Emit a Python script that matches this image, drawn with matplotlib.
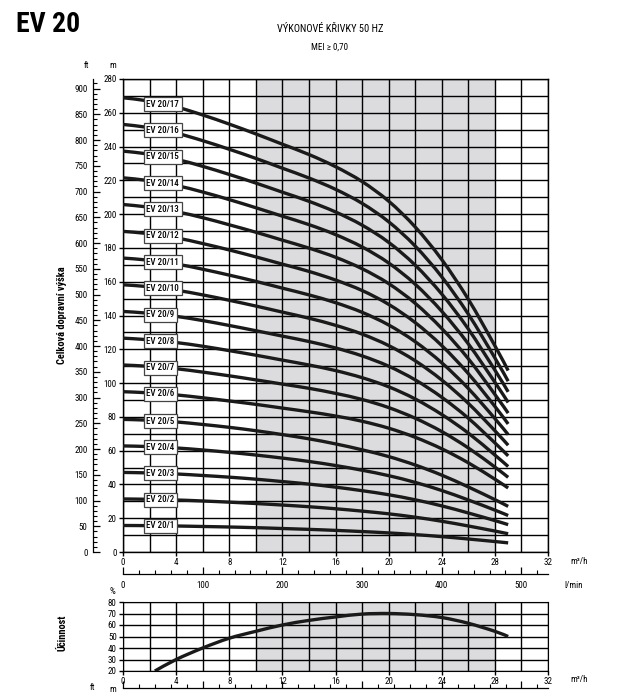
import numpy as np
import matplotlib
matplotlib.use('Agg')
import matplotlib.pyplot as plt
from matplotlib.ticker import MultipleLocator, NullFormatter
from matplotlib.path import Path
from matplotlib.patches import PathPatch

plt.rcParams['font.family'] = ['Liberation Sans Narrow', 'Roboto Condensed',
                               'Open Sans Condensed', 'DejaVu Sans']
plt.rcParams['font.stretch'] = 'condensed'

# ---------------- data ----------------
flow = [0, 2, 4, 6, 8, 10, 12, 14, 16, 18, 20, 22, 24, 26, 28, 29]  # m3/h

ev20_1 = [15.7, 15.6, 15.4, 15.1, 14.8, 14.4, 13.9, 13.4, 12.8, 12.1, 11.3, 10.3, 9.1, 7.7, 6.2, 5.4]
ev20_2 = [31.4, 31.2, 30.8, 30.2, 29.5, 28.7, 27.8, 26.8, 25.6, 24.2, 22.6, 20.6, 18.2, 15.4, 12.4, 10.8]
ev20_3 = [47.1, 46.8, 46.2, 45.3, 44.3, 43.1, 41.7, 40.2, 38.4, 36.3, 33.9, 30.9, 27.3, 23.1, 18.6, 16.2]
ev20_4 = [62.8, 62.4, 61.6, 60.4, 59.0, 57.4, 55.6, 53.6, 51.2, 48.4, 45.2, 41.2, 36.4, 30.8, 24.8, 21.6]
ev20_5 = [78.5, 78.0, 77.0, 75.5, 73.8, 71.8, 69.5, 67.0, 64.0, 60.5, 56.5, 51.5, 45.5, 38.5, 31.0, 27.0]
ev20_6 = [94.9, 94.2, 93.0, 91.3, 89.4, 87.4, 85.2, 83.0, 80.5, 77.4, 73.3, 67.9, 61.1, 52.8, 43.1, 37.9]
ev20_7 = [110.7, 109.9, 108.5, 106.5, 104.3, 101.9, 99.4, 96.9, 93.9, 90.3, 85.5, 79.2, 71.3, 61.6, 50.3, 44.2]
ev20_8 = [126.6, 125.6, 124.0, 121.8, 119.2, 116.5, 113.6, 110.7, 107.4, 103.2, 97.8, 90.6, 81.4, 70.4, 57.4, 50.6]
ev20_9 = [142.4, 141.3, 139.5, 137.0, 134.1, 131.0, 127.8, 124.6, 120.8, 116.1, 110.0, 101.9, 91.6, 79.2, 64.6, 56.9]
ev20_10 = [158.2, 157.0, 155.0, 152.2, 149.0, 145.6, 142.0, 138.4, 134.2, 129.0, 122.2, 113.2, 101.8, 88.0, 71.8, 63.2]
ev20_11 = [174.0, 172.7, 170.5, 167.4, 163.9, 160.2, 156.2, 152.2, 147.6, 141.9, 134.4, 124.5, 112.0, 96.8, 79.0, 69.5]
ev20_12 = [189.8, 188.4, 186.0, 182.6, 178.8, 174.7, 170.4, 166.1, 161.0, 154.8, 146.6, 135.8, 122.2, 105.6, 86.2, 75.8]
ev20_13 = [205.7, 204.1, 201.5, 197.9, 193.7, 189.3, 184.6, 179.9, 174.5, 167.7, 158.9, 147.2, 132.3, 114.4, 93.3, 82.2]
ev20_14 = [221.5, 219.8, 217.0, 213.1, 208.6, 203.8, 198.8, 193.8, 187.9, 180.6, 171.1, 158.5, 142.5, 123.2, 100.5, 88.5]
ev20_15 = [237.3, 235.5, 232.5, 228.3, 223.5, 218.4, 213.0, 207.6, 201.3, 193.5, 183.3, 169.8, 152.7, 132.0, 107.7, 94.8]
ev20_16 = [253.1, 251.2, 248.0, 243.5, 238.4, 233.0, 227.2, 221.4, 214.7, 206.4, 195.5, 181.1, 162.9, 140.8, 114.9, 101.1]
ev20_17 = [268.9, 266.9, 263.5, 258.7, 253.3, 247.5, 241.4, 235.3, 228.1, 219.3, 207.7, 192.4, 173.1, 149.6, 122.1, 107.4]

model_names = ['EV 20/1', 'EV 20/2', 'EV 20/3', 'EV 20/4', 'EV 20/5', 'EV 20/6', 'EV 20/7',
               'EV 20/8', 'EV 20/9', 'EV 20/10', 'EV 20/11', 'EV 20/12', 'EV 20/13',
               'EV 20/14', 'EV 20/15', 'EV 20/16', 'EV 20/17']
head_curves = [ev20_1, ev20_2, ev20_3, ev20_4, ev20_5, ev20_6, ev20_7, ev20_8, ev20_9,
               ev20_10, ev20_11, ev20_12, ev20_13, ev20_14, ev20_15, ev20_16, ev20_17]

eff_flow = [2.4, 4, 6, 8, 10, 12, 14, 16, 18, 20, 22, 24, 26, 28, 29]
eff_values = [20, 30, 40, 48.5, 54.5, 60, 64, 67, 69.5, 70, 69, 66.5, 61.5, 54.5, 50]

# ---------------- layout ----------------
W, H = 637, 694
fig = plt.figure(figsize=(W / 100, H / 100), dpi=100)


def rect(l, t, r, b):
    return [l / W, 1 - b / H, (r - l) / W, (b - t) / H]


def ftext(x, y, s, **kw):
    fig.text(x / W, 1 - y / H, s, **kw)


def smooth_curve(axis, xs, ys, **kw):
    """Draw a smooth line through the data points (Catmull-Rom as cubic Bezier)."""
    p = np.column_stack([xs, ys]).astype(float)
    n = len(p)
    verts = [p[0]]
    codes = [Path.MOVETO]
    for i in range(n - 1):
        p0 = p[i - 1] if i > 0 else p[i]
        p1, p2 = p[i], p[i + 1]
        p3 = p[i + 2] if i + 2 < n else p[i + 1]
        c1 = p1 + (p2 - p0) / 6.0
        c2 = p2 - (p3 - p1) / 6.0
        verts += [c1, c2, p2]
        codes += [Path.CURVE4] * 3
    patch = PathPatch(Path(verts, codes), fill=False, transform=axis.transData, **kw)
    axis.add_patch(patch)


SHADE = '#dcdcde'
LINE = '#1a1a1a'
FS = 6.5

# main chart
ax = fig.add_axes(rect(123, 79, 548, 552))
ax.set_xlim(0, 32)
ax.set_ylim(0, 280)
ax.axvspan(10, 28, color=SHADE, zorder=0, lw=0)
ax.xaxis.set_major_locator(MultipleLocator(4))
ax.xaxis.set_minor_locator(MultipleLocator(2))
ax.yaxis.set_major_locator(MultipleLocator(20))
ax.yaxis.set_minor_locator(MultipleLocator(10))
ax.grid(which='both', color='black', lw=1.0, zorder=1)
ax.set_axisbelow(True)
ax.tick_params(which='major', length=3, width=1, labelsize=FS, pad=1.5)
ax.tick_params(which='minor', length=0)
for s in ax.spines.values():
    s.set_linewidth(1.0)
    s.set_zorder(2)

for name, hd in zip(model_names, head_curves):
    smooth_curve(ax, flow, hd, color=LINE, lw=2.4, zorder=3, capstyle='butt')
    yb = np.interp(3.0, flow, hd)
    ax.text(1.75, yb, name, fontsize=6.5, ha='left', va='center', zorder=5,
            fontweight='medium',
            bbox=dict(boxstyle='square,pad=0.28', fc='white', ec='#444444', lw=0.9))

# ft axis
m2ft = 3.28084
sec = ax.secondary_yaxis(-30 / 425, functions=(lambda m: m * m2ft, lambda f: f / m2ft))
sec.yaxis.set_major_locator(MultipleLocator(50))
sec.yaxis.set_minor_locator(MultipleLocator(10))
sec.tick_params(which='major', direction='in', length=5, width=0.9, labelsize=FS, pad=4)
sec.tick_params(which='minor', direction='in', length=3, width=0.8)
sec.spines['left'].set_linewidth(0.9)
sec.yaxis.get_offset_text().set_visible(False)

# l/min axis under the chart
lpm = ax.secondary_xaxis(-22 / 473, functions=(lambda q: q * 1000 / 60, lambda l: l * 60 / 1000))
lpm.xaxis.set_major_locator(MultipleLocator(100))
lpm.xaxis.set_minor_locator(MultipleLocator(20))
lpm.tick_params(which='major', direction='in', length=5, width=0.9, labelsize=FS, pad=5)
lpm.tick_params(which='minor', direction='in', length=3, width=0.8)
lpm.spines['bottom'].set_linewidth(0.9)
lpm.xaxis.get_offset_text().set_visible(False)
ax.yaxis.get_offset_text().set_visible(False)

# efficiency chart
ax2 = fig.add_axes(rect(123, 602, 548, 671))
ax2.set_xlim(0, 32)
ax2.set_ylim(20, 80)
ax2.axvspan(10, 28, color=SHADE, zorder=0, lw=0)
ax2.xaxis.set_major_locator(MultipleLocator(4))
ax2.xaxis.set_minor_locator(MultipleLocator(2))
ax2.yaxis.set_major_locator(MultipleLocator(10))
ax2.grid(which='both', color='black', lw=1.0, zorder=1)
ax2.set_axisbelow(True)
ax2.tick_params(which='major', length=3, width=1, labelsize=FS, pad=1.5)
ax2.tick_params(which='minor', length=0)
smooth_curve(ax2, eff_flow, eff_values, color=LINE, lw=2.4, zorder=3, capstyle='butt')

# cut-off axis at the very bottom (next chart)
ax3 = fig.add_axes(rect(123, 688, 548, 700))
ax3.set_xlim(0, 32 * 1000 / 60)
ax3.set_ylim(0, 1)
for k in ['left', 'right', 'bottom']:
    ax3.spines[k].set_visible(False)
ax3.spines['top'].set_linewidth(0.9)
ax3.patch.set_alpha(0)
ax3.xaxis.set_ticks_position('top')
ax3.xaxis.set_major_locator(MultipleLocator(100))
ax3.xaxis.set_minor_locator(MultipleLocator(20))
ax3.xaxis.set_major_formatter(NullFormatter())
ax3.tick_params(which='major', direction='out', length=5, width=0.9)
ax3.tick_params(which='minor', direction='out', length=3, width=0.8)
ax3.set_yticks([])

# texts
ftext(16, 25, 'EV 20', fontsize=20, fontweight='bold', ha='left', va='center')
ftext(330, 29, 'VÝKONOVÉ KŘIVKY 50 HZ', fontsize=7.5, ha='center', va='center')
ftext(330, 47, 'MEI ≥ 0,70', fontsize=6.5, ha='center', va='center')
ftext(87, 66, 'ft', fontsize=FS, ha='center', va='center')
ftext(113, 66, 'm', fontsize=FS, ha='center', va='center')
ftext(570, 561, 'm³/h', fontsize=FS, ha='left', va='center')
ftext(564, 585, 'l/min', fontsize=FS, ha='left', va='center')
ftext(570, 679, 'm³/h', fontsize=FS, ha='left', va='center')
ftext(112, 592, '%', fontsize=FS, ha='center', va='center')
ftext(62, 315, 'Celková dopravní výška', fontsize=7.5, fontweight='bold', rotation=90,
      ha='center', va='center')
ftext(62, 633, 'Účinnost', fontsize=7.5, fontweight='bold', rotation=90,
      ha='center', va='center')
ftext(92, 687, 'ft', fontsize=FS, ha='center', va='center')
ftext(113, 689, 'm', fontsize=FS, ha='center', va='center')

fig.savefig('out.png', dpi=100, facecolor='white')
